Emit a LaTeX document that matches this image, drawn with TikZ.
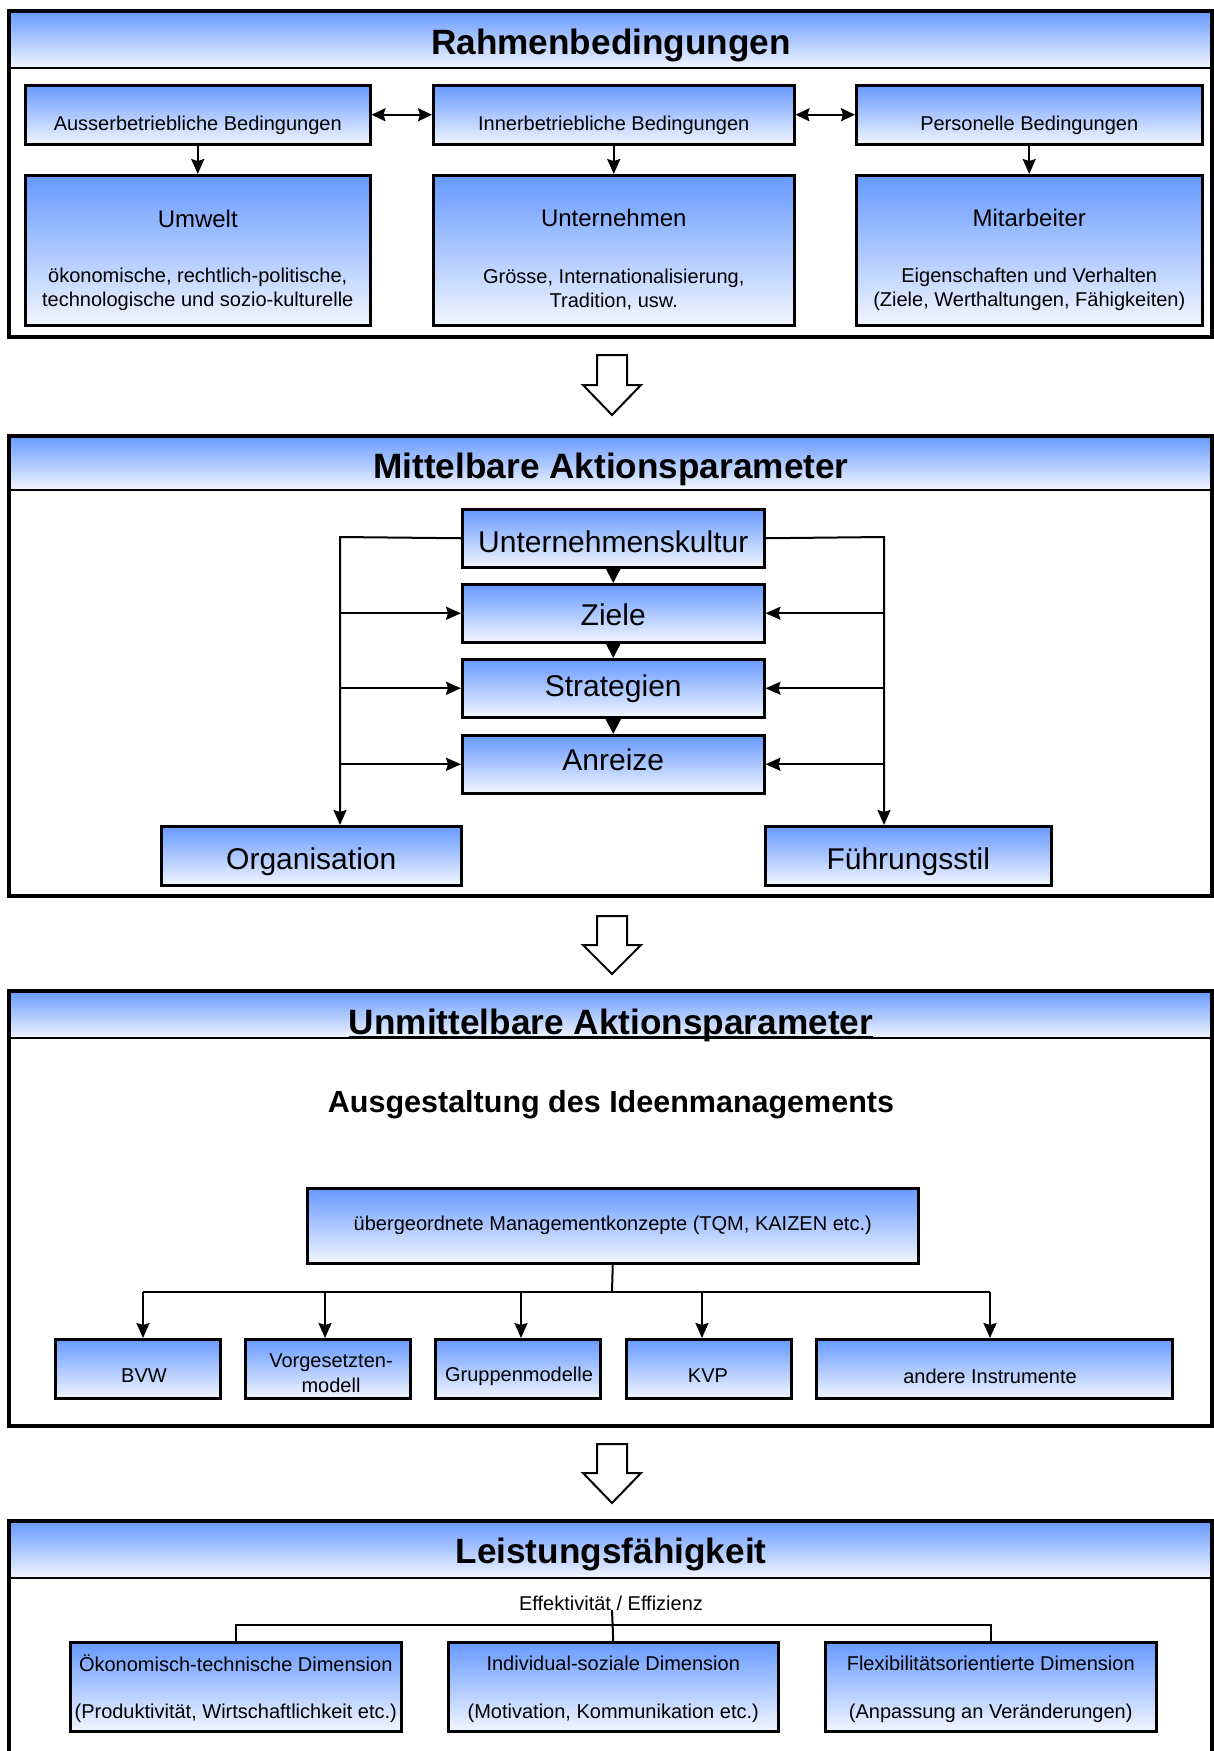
\documentclass[tikz,border=0pt]{standalone}
\usepackage{fontspec}
\setmainfont{Liberation Sans}
\usetikzlibrary{arrows.meta,calc}

\definecolor{boxtop}{HTML}{6699FF}
\definecolor{boxbot}{HTML}{F2F6FF}

\newcommand\szTitle{\fontsize{35.2}{41}\selectfont\bfseries}
\newcommand\szSub{\fontsize{30.5}{35}\selectfont\bfseries}
\newcommand\szLarge{\fontsize{30}{35}\selectfont}
\newcommand\szMid{\fontsize{24}{28}\selectfont}
\newcommand\szText{\fontsize{20}{24.5}\selectfont}

\begin{document}
\begin{tikzpicture}[x=1pt,y=-1pt,
  panel/.style={draw=black,line width=4pt},
  band/.style={top color=boxtop,bottom color=boxbot},
  hline/.style={line width=2pt},
  box/.style={draw=black,line width=2.5pt,top color=boxtop,bottom color=boxbot,
              inner sep=0pt,anchor=north west},
  link/.style={line width=2pt},
  arr/.style={-{Stealth[length=15pt,width=13pt,inset=2pt]}},
  arrtri/.style={-{Triangle[length=15pt,width=15pt]}},
  arrboth/.style={{Stealth[length=14pt,width=13pt,inset=2pt]}-{Stealth[length=14pt,width=13pt,inset=2pt]}},
  blockarrow/.style={draw=black,fill=white,line width=2pt,line join=miter},
  txt/.style={inner sep=0pt}
]
\useasboundingbox (0,0) rectangle (1214,1751);
\fill[white] (0,0) rectangle (1214,1751);

% ---------------- Rahmenbedingungen ----------------
\fill[band] (9,11) rectangle (1212,68);
\draw[hline] (9,68) -- (1212,68);
\draw[panel] (9,11) rectangle (1212,337);
\node[txt,font=\szTitle] (t1) at (611,45.5) {Rahmenbedingungen};

\node[box,minimum width=345pt,minimum height=59pt] (ausser) at (24,84) {};
\node[box,minimum width=361pt,minimum height=59pt] (inner) at (432,84) {};
\node[box,minimum width=346pt,minimum height=59pt] (pers) at (855,84) {};
\node[txt,font=\szText] (ausserT) at (ausser.center |- 0,125) {Ausserbetriebliche Bedingungen};
\node[txt,font=\szText] (innerT) at (inner.center |- 0,125) {Innerbetriebliche Bedingungen};
\node[txt,font=\szText] (persT) at (pers.center |- 0,125) {Personelle Bedingungen};

\node[box,minimum width=345pt,minimum height=150pt] (umwelt) at (24,174) {};
\node[box,minimum width=361pt,minimum height=150pt] (untern) at (432,174) {};
\node[box,minimum width=346pt,minimum height=150pt] (mitarb) at (855,174) {};

\node[txt,font=\szMid] (umweltT) at (umwelt.center |- 0,219) {Umwelt};
\node[txt,font=\szText,align=center] (umweltS) at (umwelt.center |- 0,289.5)
  {ökonomische, rechtlich-politische,\\technologische und sozio-kulturelle};
\node[txt,font=\szMid] (unternT) at (untern.center |- 0,218) {Unternehmen};
\node[txt,font=\szText,align=center] (unternS) at (untern.center |- 0,289.5)
  {Grösse, Internationalisierung,\\Tradition, usw.};
\node[txt,font=\szMid] (mitarbT) at (mitarb.center |- 0,218) {Mitarbeiter};
\node[txt,font=\szText,align=center] (mitarbS) at (mitarb.center |- 0,289.5)
  {Eigenschaften und Verhalten\\(Ziele, Werthaltungen, Fähigkeiten)};

\draw[link,arrboth] (ausser.east) -- (inner.west);
\draw[link,arrboth] (inner.east) -- (pers.west);
\draw[link,arr] (ausser.south) -- (umwelt.north);
\draw[link,arr] (inner.south) -- (untern.north);
\draw[link,arr] (pers.south) -- (mitarb.north);

% ---------------- block arrow 1 ----------------
\draw[blockarrow] (597,355) -- (627,355) -- (627,385) -- (641,385) -- (612,415)
  -- (583,385) -- (597,385) -- cycle;

% ---------------- Mittelbare Aktionsparameter ----------------
\fill[band] (9,436) rectangle (1212,490);
\draw[hline] (9,490) -- (1212,490);
\draw[panel] (9,436) rectangle (1212,896);
\node[txt,font=\szTitle] (t2) at (611,469) {Mittelbare Aktionsparameter};

\node[box,minimum width=302pt,minimum height=58pt] (ukultur) at (461,508) {};
\node[box,minimum width=302pt,minimum height=58pt] (ziele) at (461,583) {};
\node[box,minimum width=302pt,minimum height=58pt] (strat) at (461,658) {};
\node[box,minimum width=302pt,minimum height=58pt] (anreize) at (461,734) {};
\node[box,minimum width=300pt,minimum height=59pt] (org) at (160,825) {};
\node[box,minimum width=286pt,minimum height=59pt] (fuehr) at (764,825) {};

\node[txt,font=\szLarge] (ukulturT) at (ukultur.center |- 0,542) {Unternehmenskultur};
\node[txt,font=\szLarge] (zieleT) at (ziele.center |- 0,614.5) {Ziele};
\node[txt,font=\szLarge] (stratT) at (strat.center |- 0,689) {Strategien};
\node[txt,font=\szLarge] (anreizeT) at (anreize.center |- 0,759.5) {Anreize};
\node[txt,font=\szLarge] (orgT) at (org.center |- 0,862) {Organisation};
\node[txt,font=\szLarge] (fuehrT) at (fuehr.center |- 0,862) {Führungsstil};

\draw[link,arrtri] (ukultur.south) -- (ziele.north);
\draw[link,arrtri] (ziele.south) -- (strat.north);
\draw[link,arrtri] (strat.south) -- (anreize.north);

\coordinate (lbus) at (340,537);
\coordinate (rbus) at (884,537);
\draw[link,arr] (ukultur.west) -- (lbus) -- (lbus |- org.north);
\draw[link,arr] (ukultur.east) -- (rbus) -- (rbus |- fuehr.north);
\draw[link,arr] (lbus |- ziele.west) -- (ziele.west);
\draw[link,arr] (lbus |- strat.west) -- (strat.west);
\draw[link,arr] (lbus |- anreize.west) -- (anreize.west);
\draw[link,arr] (rbus |- ziele.east) -- (ziele.east);
\draw[link,arr] (rbus |- strat.east) -- (strat.east);
\draw[link,arr] (rbus |- anreize.east) -- (anreize.east);

% ---------------- block arrow 2 ----------------
\draw[blockarrow] (597,916) -- (627,916) -- (627,945) -- (641,945) -- (612,974)
  -- (583,945) -- (597,945) -- cycle;

% ---------------- Unmittelbare Aktionsparameter ----------------
\fill[band] (9,991) rectangle (1212,1038);
\draw[line width=1.5pt] (9,1038) -- (1212,1038);
\draw[panel] (9,991) rectangle (1212,1426);
\node[txt,font=\szTitle,anchor=base] (t3) at (611,1034) {Unmittelbare Aktionsparameter};
\draw[line width=2.5pt] (t3.west |- 0,1037) -- (t3.east |- 0,1037);

\node[txt,font=\szSub] (ideen) at (611,1104.5) {Ausgestaltung des Ideenmanagements};

\node[box,minimum width=611pt,minimum height=75pt,font=\szText] (konzepte) at (306,1187)
  {übergeordnete Managementkonzepte (TQM, KAIZEN etc.)};

\node[box,minimum width=165pt,minimum height=59pt] (bvw) at (54,1338) {};
\node[box,minimum width=165pt,minimum height=59pt] (vorg) at (244,1338) {};
\node[box,minimum width=165pt,minimum height=59pt] (grup) at (434,1338) {};
\node[box,minimum width=165pt,minimum height=59pt] (kvp) at (625,1338) {};
\node[box,minimum width=356pt,minimum height=59pt] (andere) at (815,1338) {};

\node[txt,font=\szText] (bvwT) at (144,1376) {BVW};
\node[txt,font=\szText,align=center] (vorgT) at (331,1373) {Vorgesetzten-\\modell};
\node[txt,font=\szText] (grupT) at (519,1376) {Gruppenmodelle};
\node[txt,font=\szText] (kvpT) at (708,1376) {KVP};
\node[txt,font=\szText] (andereT) at (990,1376) {andere Instrumente};

\coordinate (split) at (612,1292);
\coordinate (d1) at (143,1292);
\coordinate (d2) at (325,1292);
\coordinate (d3) at (521,1292);
\coordinate (d4) at (702,1292);
\coordinate (d5) at (990,1292);
\draw[link] (konzepte.south) -- (split);
\draw[link] (d1) -- (d5);
\draw[link,arr] (d1) -- (d1 |- bvw.north);
\draw[link,arr] (d2) -- (d2 |- vorg.north);
\draw[link,arr] (d3) -- (d3 |- grup.north);
\draw[link,arr] (d4) -- (d4 |- kvp.north);
\draw[link,arr] (d5) -- (d5 |- andere.north);

% ---------------- block arrow 3 ----------------
\draw[blockarrow] (597,1444) -- (627,1444) -- (627,1473) -- (641,1473) -- (612,1503)
  -- (583,1473) -- (597,1473) -- cycle;

% ---------------- Leistungsfähigkeit ----------------
\fill[band] (9,1521) rectangle (1212,1578);
\draw[hline] (9,1578) -- (1212,1578);
\draw[panel] (9,1760) -- (9,1521) -- (1212,1521) -- (1212,1760);
\node[txt,font=\szTitle] (t4) at (611,1554) {Leistungsfähigkeit};

\node[txt,font=\szText] (eff) at (611,1603) {Effektivität / Effizienz};

\node[box,minimum width=331pt,minimum height=89pt] (oek) at (69,1641) {};
\node[box,minimum width=330pt,minimum height=89pt] (ind) at (447,1641) {};
\node[box,minimum width=331pt,minimum height=89pt] (flex) at (824,1641) {};

\node[txt,font=\szText] (oekA) at (oek.center |- 0,1663) {Ökonomisch-technische Dimension};
\node[txt,font=\szText] (oekB) at (oek.center |- 0,1713) {(Produktivität, Wirtschaftlichkeit etc.)};
\node[txt,font=\szText] (indA) at (ind.center |- 0,1663) {Individual-soziale Dimension};
\node[txt,font=\szText] (indB) at (ind.center |- 0,1713) {(Motivation, Kommunikation etc.)};
\node[txt,font=\szText] (flexA) at (flex.center |- 0,1663) {Flexibilitätsorientierte Dimension};
\node[txt,font=\szText] (flexB) at (flex.center |- 0,1713) {(Anpassung an Veränderungen)};

\coordinate (effdown) at (612,1610);
\coordinate (bar) at (612,1625);
\draw[link] (effdown) -- (ind.north);
\draw[link] (oek.north) -- (oek.north |- bar) -- (flex.north |- bar) -- (flex.north);

\end{tikzpicture}
\end{document}
